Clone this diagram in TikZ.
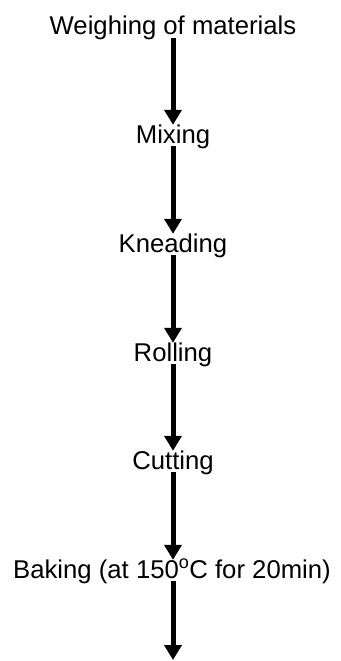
\documentclass[tikz,border=0pt]{standalone}
\usepackage{fontspec}
\setmainfont{Liberation Sans}
\usetikzlibrary{arrows.meta}
\tikzset{
  lbl/.style={inner sep=0pt, anchor=base, text height=18pt, text depth=3pt,
    font=\fontsize{25.7}{30}\selectfont},
  flowarrow/.style={line width=5pt, -{Triangle[width=17pt,length=15pt]}}
}
\begin{document}
\begin{tikzpicture}[x=1pt,y=-1pt]
\useasboundingbox (0,0) rectangle (340,661);
\node[lbl] (w) at (173,35) {Weighing of materials};
\node[lbl] (m) at (173,143) {Mixing};
\node[lbl] (k) at (173,252) {Kneading};
\node[lbl] (r) at (173,361) {Rolling};
\node[lbl] (c) at (173,469) {Cutting};
\node[lbl] (b) at (172,578) {Baking (at 150\textsuperscript{o}C for 20min)};
\coordinate (end) at (173,660);
\draw[flowarrow] (w.south -| m.north) -- (m.north);
\draw[flowarrow] (m.south) -- (k.north);
\draw[flowarrow] (k.south) -- (r.north);
\draw[flowarrow] (r.south) -- (c.north);
\draw[flowarrow] (c.south) -- (c.south |- b.north);
\draw[flowarrow] (b.south -| end) -- (end);
\end{tikzpicture}
\end{document}
